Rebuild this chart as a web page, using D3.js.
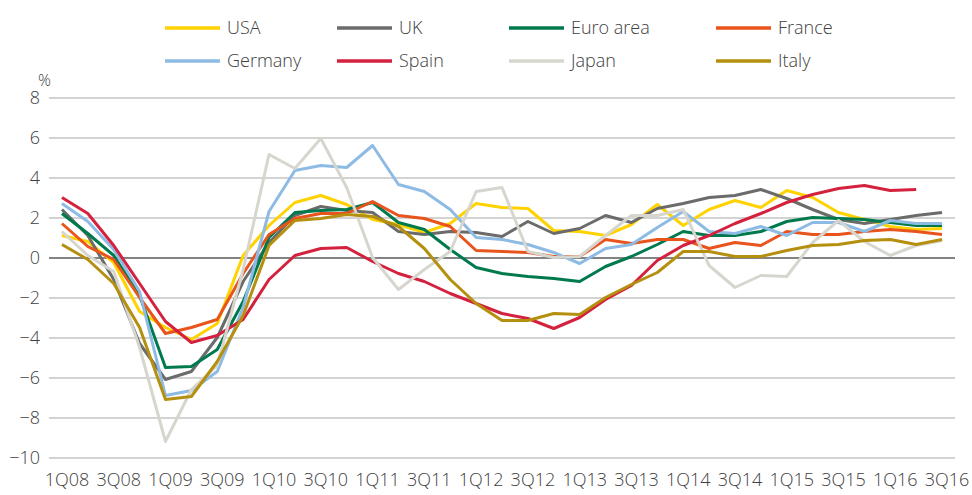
<!DOCTYPE html>
<html>
<head>
<meta charset="utf-8">
<script src="https://cdn.jsdelivr.net/npm/d3@7"></script>
<style>
  body { margin: 0; background: #fff; }
  svg text { font-family: 'Open Sans', sans-serif; font-weight: 300; fill: #404040; }
</style>
</head>
<body>
<svg id="chart" width="972" height="495"></svg>
<script>
// quarters 1Q08 .. 3Q16
const quarters = [];
for (let yr = 8; yr <= 16; yr++) {
  for (let q = 1; q <= 4; q++) {
    if (yr === 16 && q === 4) break;
    quarters.push(q + "Q" + String(yr).padStart(2, "0"));
  }
}

const countries = ["USA", "UK", "Euro area", "France", "Germany", "Spain", "Japan", "Italy"];
const colors = ["#FFD200", "#6B6B6B", "#007A4D", "#E8541C", "#8DBBE3", "#D4213D", "#D7D6CE", "#B58F0E"];

const usa     = [1.1, 0.8, -0.25, -2.7, -3.5, -4.1, -3.3, 0.1, 1.6, 2.75, 3.1, 2.65, 1.9, 1.65, 1.25, 1.7, 2.7, 2.5, 2.45, 1.35, 1.3, 1.1, 1.65, 2.65, 1.6, 2.4, 2.85, 2.5, 3.35, 3.0, 2.25, 1.9, 1.55, 1.4, 1.45];
const uk      = [2.4, 1.1, -1.1, -4.3, -6.1, -5.7, -4.0, -1.2, 0.75, 2.1, 2.55, 2.35, 2.25, 1.3, 1.15, 1.3, 1.25, 1.05, 1.8, 1.2, 1.45, 2.1, 1.75, 2.45, 2.7, 3.0, 3.1, 3.4, 2.95, 2.4, 1.9, 1.7, 1.9, 2.1, 2.25];
const euro    = [2.2, 1.2, 0.1, -1.9, -5.5, -5.45, -4.6, -2.2, 1.0, 2.25, 2.35, 2.4, 2.75, 1.75, 1.4, 0.4, -0.5, -0.8, -0.95, -1.05, -1.2, -0.45, 0.05, 0.65, 1.3, 1.1, 1.1, 1.3, 1.8, 2.0, 1.95, 1.9, 1.75, 1.6, 1.6];
const france  = [1.7, 0.55, -0.1, -2.0, -3.8, -3.5, -3.1, -0.8, 1.15, 1.95, 2.2, 2.2, 2.8, 2.1, 1.95, 1.55, 0.35, 0.3, 0.25, 0.05, 0.05, 0.9, 0.7, 0.9, 0.9, 0.45, 0.75, 0.6, 1.3, 1.15, 1.15, 1.3, 1.4, 1.3, 1.15];
const germany = [2.7, 1.8, 0.4, -1.7, -6.9, -6.65, -5.7, -2.5, 2.3, 4.35, 4.6, 4.5, 5.6, 3.65, 3.3, 2.4, 1.0, 0.9, 0.65, 0.25, -0.3, 0.45, 0.65, 1.5, 2.3, 1.3, 1.2, 1.55, 1.1, 1.75, 1.75, 1.3, 1.85, 1.7, 1.7];
const spain   = [3.0, 2.2, 0.6, -1.3, -3.2, -4.25, -3.9, -3.1, -1.1, 0.1, 0.45, 0.5, -0.2, -0.8, -1.2, -1.8, -2.3, -2.8, -3.05, -3.55, -3.0, -2.1, -1.4, -0.15, 0.6, 1.1, 1.7, 2.2, 2.75, 3.15, 3.45, 3.6, 3.35, 3.4, null];
const japan   = [1.3, 0.1, -0.7, -4.5, -9.2, -6.6, -5.4, -0.6, 5.15, 4.45, 5.95, 3.5, 0.0, -1.6, -0.6, 0.3, 3.3, 3.5, 0.3, 0.0, 0.05, 1.1, 2.1, 2.1, 2.4, -0.4, -1.5, -0.9, -0.95, 0.75, 1.85, 0.8, 0.1, 0.6, 0.85];
const italy   = [0.65, -0.1, -1.3, -3.5, -7.1, -6.95, -5.2, -2.9, 0.6, 1.85, 1.95, 2.15, 2.05, 1.55, 0.45, -1.1, -2.3, -3.15, -3.15, -2.8, -2.85, -2.0, -1.35, -0.75, 0.3, 0.3, 0.05, 0.05, 0.35, 0.6, 0.65, 0.85, 0.9, 0.65, 0.9];

const seriesValues = [usa, uk, euro, france, germany, spain, japan, italy];
const yTicks = [-10, -8, -6, -4, -2, 0, 2, 4, 6, 8];

const svg = d3.select("#chart");
const mLeft = 49, mRight = 955, mTop = 97.5, mBottom = 457.5;

const x = d3.scaleBand().domain(quarters).range([mLeft, mRight]).padding(0);
const y = d3.scaleLinear().domain([-10, 8]).range([mBottom, mTop]);
const cx = d => x(d) + x.bandwidth() / 2;

// gridlines + y labels
const yAxis = svg.append("g")
  .attr("transform", `translate(${mLeft},0)`)
  .call(d3.axisLeft(y).tickValues(yTicks).tickSize(-(mRight - mLeft)).tickPadding(9).tickFormat(d3.format("d")));
yAxis.select(".domain").remove();
yAxis.selectAll(".tick line")
  .attr("stroke", d => d === 0 ? "#5a5a5a" : "#c4c4c4")
  .attr("stroke-width", d => d === 0 ? 1.5 : 1.3);
yAxis.selectAll(".tick text")
  .style("font-size", "18px")
  .style("font-family", "'Open Sans', sans-serif")
  .attr("fill", "#404040");

svg.append("text")
  .attr("x", 38).attr("y", 86)
  .style("font-size", "16px")
  .text("%");

// x labels
const xAxis = svg.append("g")
  .attr("transform", `translate(5,${mBottom})`)
  .call(d3.axisBottom(x).tickValues(quarters.filter((d, i) => i % 2 === 0)).tickSize(0).tickPadding(16));
xAxis.select(".domain").remove();
xAxis.selectAll(".tick text")
  .style("font-size", "18px")
  .style("font-family", "'Open Sans', sans-serif")
  .attr("fill", "#404040");

// lines
const line = d3.line()
  .defined(d => d.v !== null)
  .x(d => cx(d.q))
  .y(d => y(d.v));

seriesValues.forEach((vals, k) => {
  svg.append("path")
    .datum(vals.map((v, i) => ({ q: quarters[i], v: v })))
    .attr("fill", "none")
    .attr("stroke", colors[k])
    .attr("stroke-width", 3)
    .attr("stroke-linejoin", "round")
    .attr("d", line);
});

// legend
const legX = [165, 337, 509, 716];
const legY = [28, 61];
const leg = svg.append("g").selectAll("g")
  .data(countries)
  .join("g")
  .attr("transform", (d, i) => `translate(${legX[i % 4]},${legY[Math.floor(i / 4)]})`);
leg.append("line")
  .attr("x1", 0).attr("x2", 55)
  .attr("stroke", (d, i) => colors[i])
  .attr("stroke-width", 3.5);
leg.append("text")
  .attr("x", 62).attr("dy", "0.35em")
  .style("font-size", "18px")
  .text(d => d);
</script>
</body>
</html>
